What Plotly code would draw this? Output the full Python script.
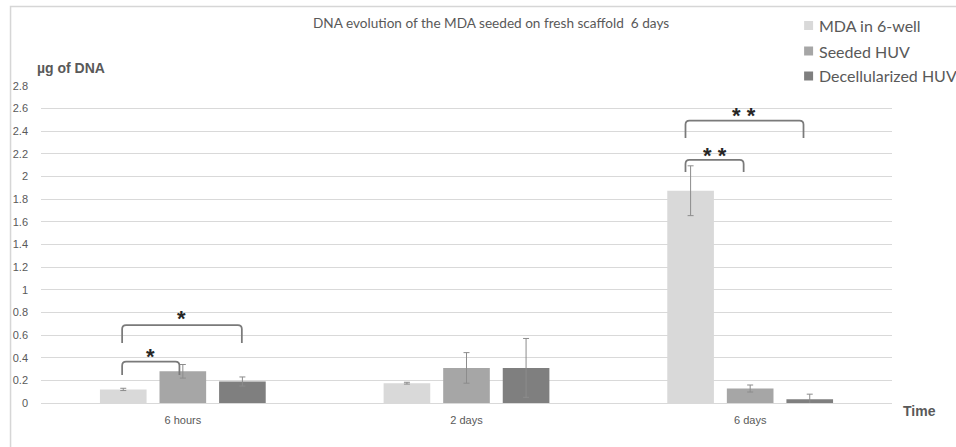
import plotly.graph_objects as go

categories = ["6 hours", "2 days", "6 days"]
series_names = ["MDA in 6-well", "Seeded HUV", "Decellularized HUV"]
mda_values = [0.12, 0.175, 1.875]
mda_errors = [0.01, 0.008, 0.22]
seeded_values = [0.28, 0.31, 0.128]
seeded_errors = [0.06, 0.135, 0.031]
decell_values = [0.19, 0.31, 0.033]
decell_errors = [0.04, 0.26, 0.045]
y_ticks = [0, 0.2, 0.4, 0.6, 0.8, 1, 1.2, 1.4, 1.6, 1.8, 2, 2.2, 2.4, 2.6, 2.8]

colors = ["#d9d9d9", "#a6a6a6", "#7f7f7f"]
FONT = "Liberation Sans"
FONT2 = "Lato"
TXT = "#595959"

W, H = 956, 447
L, T = 40.5, 86
R = W - 892.5
B = H - 403
PW, PH = W - L - R, H - T - B

def px(x):
    return (x - L) / PW

def py(y):
    return (H - B - y) / PH

x_pos = list(range(len(categories)))
fig = go.Figure()
for name, vals, errs, col in zip(series_names,
                                 [mda_values, seeded_values, decell_values],
                                 [mda_errors, seeded_errors, decell_errors],
                                 colors):
    fig.add_trace(go.Bar(
        x=x_pos, y=vals, name=name, marker=dict(color=col, line=dict(width=0)),
        error_y=dict(type="data", array=errs, visible=True, color="#8c8c8c",
                     thickness=1, width=3),
        showlegend=False,
    ))

fig.update_layout(
    width=W, height=H,
    margin=dict(l=L, r=R, t=T, b=B, autoexpand=False),
    paper_bgcolor="white", plot_bgcolor="white",
    barmode="group", bargap=0.37, bargroupgap=0.217,
    font=dict(family=FONT, color=TXT),
    xaxis=dict(range=[-0.5, 2.5], tickvals=x_pos, ticktext=categories,
               showgrid=False, showline=True, linecolor="#d9d9d9", linewidth=1,
               ticks="", ticklabelstandoff=7, tickfont=dict(size=11, color=TXT),
               zeroline=False, automargin=False),
    yaxis=dict(range=[0, 2.8], tickvals=y_ticks, showgrid=True,
               gridcolor="#d9d9d9", gridwidth=1, zeroline=False, showline=False,
               ticks="", ticklabelstandoff=12, tickfont=dict(size=11, color=TXT),
               automargin=False),
)

# chart border
fig.add_shape(type="rect", xref="paper", yref="paper",
              x0=px(10), y0=py(6.5), x1=px(1000), y1=py(480),
              line=dict(color="#d6d6d6", width=1.5), layer="below")

# legend (manual, compact like the original)
legend_rows = [25.5, 51, 76]
for name, col, yc in zip(series_names, colors, legend_rows):
    fig.add_shape(type="rect", xref="paper", yref="paper",
                  x0=px(804.5), x1=px(813.5), y0=py(yc - 4.5), y1=py(yc + 4.5),
                  line=dict(width=0), fillcolor=col)
    fig.add_annotation(text=name, xref="paper", yref="paper", x=px(817.5), y=py(yc),
                       showarrow=False, xanchor="left", yanchor="middle",
                       font=dict(family=FONT2, size=16, color=TXT))

fig.add_annotation(text="DNA evolution of the MDA seeded on fresh scaffold  6 days",
                   xref="paper", yref="paper", x=px(491.5), y=py(23), showarrow=False,
                   font=dict(family=FONT2, size=13.6, color=TXT),
                   xanchor="center", yanchor="middle")
fig.add_annotation(text="<b>µg of DNA</b>", xref="paper", yref="paper",
                   x=px(71), y=py(68), showarrow=False,
                   font=dict(size=14, color=TXT), xanchor="center", yanchor="middle")
fig.add_annotation(text="<b>Time</b>", xref="paper", yref="paper",
                   x=px(920.5), y=py(411), showarrow=False,
                   font=dict(size=14, color=TXT), xanchor="center", yanchor="middle")

# significance brackets
def bracket(xl, xr, yt, yb, stars, ys):
    rx, ry = 0.014, 0.035
    path = (f"M {xl},{yb} L {xl},{yt-ry} Q {xl},{yt} {xl+rx},{yt} "
            f"L {xr-rx},{yt} Q {xr},{yt} {xr},{yt-ry} L {xr},{yb}")
    fig.add_shape(type="path", path=path, xref="x", yref="y",
                  line=dict(color="#7a7a7a", width=1.75))
    fig.add_annotation(text=f"<b>{stars}</b>", x=(xl + xr) / 2, y=ys, xref="x", yref="y",
                       showarrow=False, font=dict(size=22, color="#262626"),
                       xanchor="center", yanchor="middle")

bracket(-0.214, -0.012, 0.365, 0.247, "*", 0.415)
bracket(-0.214, 0.208, 0.689, 0.53, "*", 0.745)
bracket(1.772, 1.977, 2.147, 2.04, "* *", 2.19)
bracket(1.772, 2.188, 2.494, 2.341, "* *", 2.54)

fig.write_html("out.html", config={"displayModeBar": False},
               post_script="document.body.style.margin='0';document.body.style.overflow='hidden';")
